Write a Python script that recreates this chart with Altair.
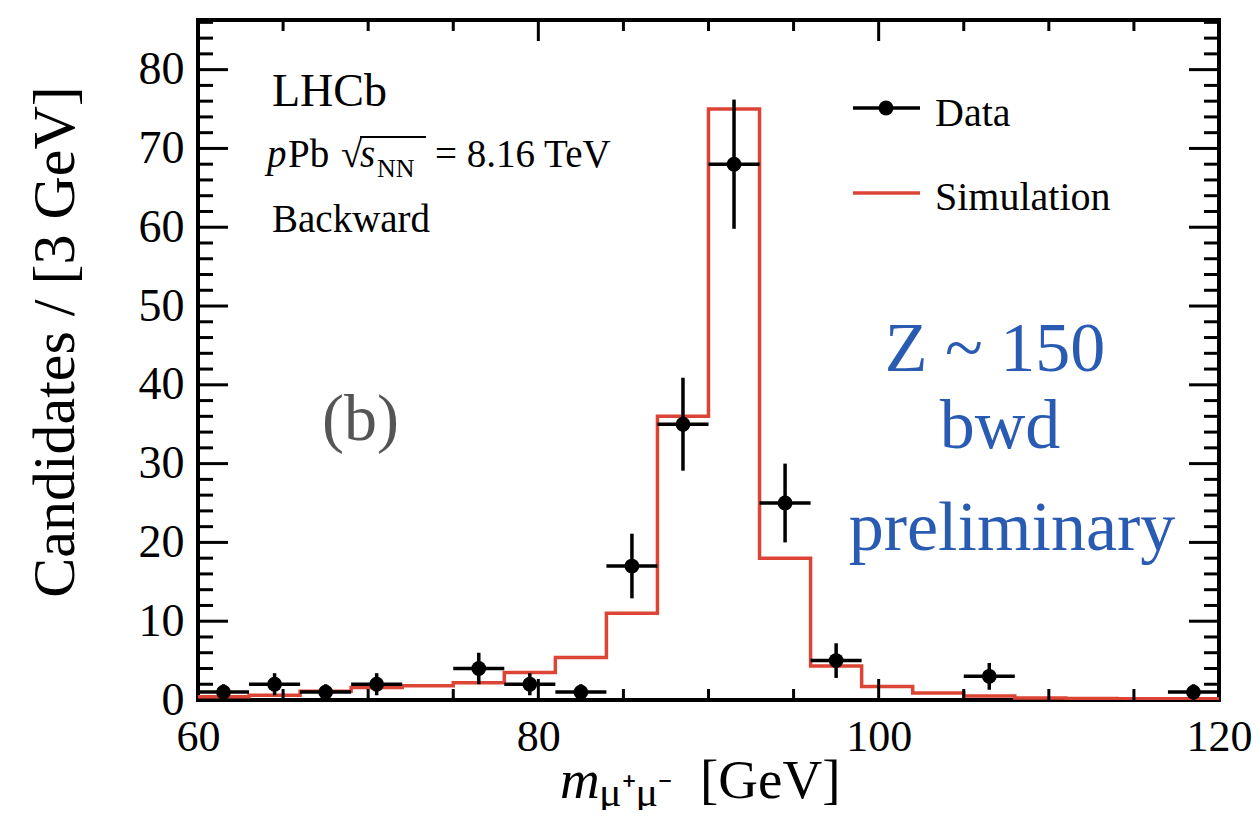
import altair as alt
import pandas as pd

# ---------------- data ----------------
bin_edges = [60, 63, 66, 69, 72, 75, 78, 81, 84, 87, 90, 93, 96, 99, 102, 105, 108, 111, 114, 117, 120]
sim_counts = [0.4, 0.6, 1.1, 1.6, 1.8, 2.2, 3.5, 5.4, 11.0, 36.0, 75.0, 18.0, 4.3, 1.7, 0.9, 0.5, 0.25, 0.2, 0.15, 0.15]

data_centers = [61.5, 64.5, 67.5, 70.5, 76.5, 79.5, 82.5, 85.5, 88.5, 91.5, 94.5, 97.5, 106.5, 118.5]
data_counts = [1, 2, 1, 2, 4, 2, 1, 17, 35, 68, 25, 5, 3, 1]
data_errors = [1.0, 1.4, 1.0, 1.4, 2.0, 1.4, 1.0, 4.1, 5.9, 8.2, 5.0, 2.2, 1.7, 1.0]
bin_half_width = 1.5

x_label_values = [60, 80, 100, 120]
x_minor_ticks = [65, 70, 75, 85, 90, 95, 105, 110, 115]
y_label_values = [0, 10, 20, 30, 40, 50, 60, 70, 80]
y_major_ticks = [10, 20, 30, 40, 50, 60, 70, 80]
y_minor_ticks = [v for v in range(2, 87, 2) if v % 10]

# ---------------- layout ----------------
W, H = 1021, 680
FONT = "Liberation Serif"
RED = "#dc4535"
BLUE = "#2a5bb3"

xs = alt.Scale(domain=[60, 120], nice=False, zero=False)
ys = alt.Scale(domain=[0, 86.3], nice=False, zero=False)

AX = alt.Axis(values=x_label_values, ticks=False, tickSize=0, domain=False, grid=False, title=None,
              labelFont=FONT, labelFontSize=44, labelColor="black", labelPadding=15, format="d",
              labelFlush=False, labelOverlap=False)
AY = alt.Axis(values=y_label_values, ticks=False, tickSize=0, domain=False, grid=False, title=None,
              labelFont=FONT, labelFontSize=46, labelColor="black", labelPadding=14, format="d",
              labelFlush=False, labelOverlap=False)

sim_df = pd.DataFrame({"edge": bin_edges, "count": sim_counts + [sim_counts[-1]]})
dat_df = pd.DataFrame({"center": data_centers, "count": data_counts, "err": data_errors})
dat_df["lo"] = dat_df["count"] - dat_df["err"]
dat_df["hi"] = dat_df["count"] + dat_df["err"]
dat_df["x1"] = dat_df["center"] - bin_half_width
dat_df["x2"] = dat_df["center"] + bin_half_width

sim = alt.Chart(sim_df).mark_line(interpolate="step-after", color=RED, strokeWidth=3.5, clip=True).encode(
    x=alt.X("edge:Q", scale=xs, axis=AX),
    y=alt.Y("count:Q", scale=ys, axis=AY),
)

vbars = alt.Chart(dat_df).mark_rule(color="black", strokeWidth=3.5).encode(
    x=alt.X("center:Q", scale=xs, axis=AX),
    y=alt.Y("lo:Q", scale=ys, axis=AY), y2="hi:Q")
hbars = alt.Chart(dat_df).mark_rule(color="black", strokeWidth=3.5).encode(
    x=alt.X("x1:Q", scale=xs, axis=AX), x2="x2:Q",
    y=alt.Y("count:Q", scale=ys, axis=AY))
pts = alt.Chart(dat_df).mark_circle(color="black", opacity=1, size=220).encode(
    x=alt.X("center:Q", scale=xs, axis=AX),
    y=alt.Y("count:Q", scale=ys, axis=AY))

# inward ticks on all four sides
def xticks(vals, length):
    df = pd.DataFrame({"t": vals})
    bottom = alt.Chart(df).mark_rule(color="black", strokeWidth=3).encode(
        x=alt.X("t:Q", scale=xs, axis=AX), y=alt.value(H), y2=alt.value(H - length))
    top = alt.Chart(df).mark_rule(color="black", strokeWidth=3).encode(
        x=alt.X("t:Q", scale=xs, axis=AX), y=alt.value(0), y2=alt.value(length))
    return [bottom, top]

def yticks(vals, length):
    df = pd.DataFrame({"t": vals})
    left = alt.Chart(df).mark_rule(color="black", strokeWidth=3).encode(
        y=alt.Y("t:Q", scale=ys, axis=AY), x=alt.value(0), x2=alt.value(length))
    right = alt.Chart(df).mark_rule(color="black", strokeWidth=3).encode(
        y=alt.Y("t:Q", scale=ys, axis=AY), x=alt.value(W), x2=alt.value(W - length))
    return [left, right]

tick_layers = (xticks(x_label_values[1:-1], 21) + xticks(x_minor_ticks, 11)
               + yticks(y_major_ticks, 30) + yticks(y_minor_ticks, 15))

one = pd.DataFrame({"a": [0]})

def txt(text, x, y, size, color="black", align="left", italic=False, angle=0, baseline="alphabetic"):
    kw = dict(text=text, font=FONT, fontSize=size, color=color, align=align, baseline=baseline)
    if italic:
        kw["fontStyle"] = "italic"
    if angle:
        kw["angle"] = angle
    return alt.Chart(one).mark_text(**kw).encode(x=alt.value(x), y=alt.value(y))

def seg(x1, x2, y1, y2, color, width):
    return alt.Chart(one).mark_rule(color=color, strokeWidth=width).encode(
        x=alt.value(x1), x2=alt.value(x2), y=alt.value(y1), y2=alt.value(y2))

annotations = [
    txt("LHCb", 74, 86, 46),
    txt("p", 69, 147, 39, italic=True),
    txt("Pb", 90, 147, 39),
    txt("\u221a", 143, 147, 39),
    seg(162, 228, 117, 117, "black", 2),
    txt("s", 162, 147, 39, italic=True),
    txt("NN", 179, 157, 26),
    txt("= 8.16 TeV", 237, 147, 39),
    txt("Backward", 74, 212, 39),
    # legend
    seg(655, 722, 88, 88, "black", 3.5),
    txt("Data", 737, 106, 40),
    seg(655, 722, 173, 173, RED, 3.5),
    txt("Simulation", 737, 190, 40),
    txt("(b)", 124, 420, 66, color="#555555"),
    txt("Z ~ 150", 797, 351, 70, color=BLUE, align="center"),
    txt("bwd", 802, 428, 70, color=BLUE, align="center"),
    txt("preliminary", 814, 530, 70, color=BLUE, align="center"),
    # axis titles
    txt("Candidates / [3 GeV]", -124, 322, 60, angle=270, align="center"),
    txt("m", 362, 778, 55, italic=True),
    txt("\u03bc\u207a\u03bc\u207b", 401, 786, 42),
    txt("[GeV]", 502, 778, 55),
]

legend_dot = alt.Chart(one).mark_circle(color="black", opacity=1, size=220).encode(
    x=alt.value(688), y=alt.value(88))

chart = alt.layer(sim, *tick_layers, vbars, hbars, pts, *annotations, legend_dot).properties(
    width=W, height=H,
    autosize=alt.AutoSizeParams(type="none"),
    padding={"left": 190, "top": 12, "right": 33, "bottom": 110},
    background="white",
).configure_view(stroke="black", strokeWidth=4)

chart.save("out.html", embed_options={"renderer": "svg", "actions": False})
